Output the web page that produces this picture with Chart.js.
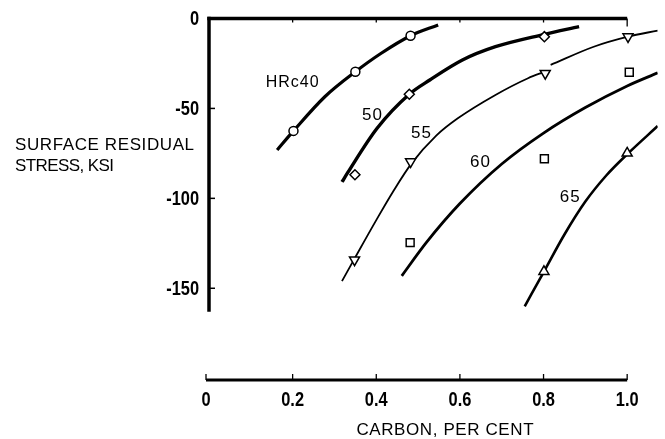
<!DOCTYPE html>
<html><head><meta charset="utf-8">
<script src="https://cdn.jsdelivr.net/npm/chart.js@4"></script>
<style>html,body{margin:0;padding:0;background:#fff;} canvas{display:block;}</style>
</head><body>
<canvas id="c" width="665" height="439"></canvas>
<script>
// ---- axis ticks / titles ----
const carbonTicks = [0, 0.2, 0.4, 0.6, 0.8, 1.0];
const carbonTickLabels = ['0', '0.2', '0.4', '0.6', '0.8', '1.0'];
const stressTicks = [0, -50, -100, -150];
const stressTickLabels = ['0', '-50', '-100', '-150'];
const xTitle = 'CARBON, PER CENT';
const yTitle = ['SURFACE RESIDUAL', 'STRESS, KSI'];
const curveNames = ['HRc40', '50', '55', '60', '65'];

// ---- faired curves (carbon %, stress ksi) ----
const hrc40CurveX = [0.163, 0.202, 0.277, 0.350, 0.410, 0.482, 0.548];
const hrc40CurveY = [-73.1, -62.5, -43.5, -29.6, -19.6, -9.6, -3.6];
const hrc50CurveX = [0.318, 0.332, 0.402, 0.479, 0.528, 0.606, 0.685, 0.802, 0.885];
const hrc50CurveY = [-90.9, -85.6, -61.0, -42.1, -34.2, -23.1, -15.7, -8.8, -4.5];
const hrc55CurveAX = [0.318, 0.348, 0.400, 0.440, 0.484, 0.544, 0.595, 0.685, 0.763, 0.804];
const hrc55CurveAY = [-146.0, -133.5, -112.1, -96.3, -80.7, -65.0, -55.5, -42.5, -33.2, -29.5];
const hrc55CurveBX = [0.817, 0.920, 1.002, 1.073];
const hrc55CurveBY = [-25.8, -15.7, -10.1, -6.7];
const hrc60CurveX = [0.461, 0.520, 0.600, 0.700, 0.800, 0.900, 1.000, 1.073];
const hrc60CurveY = [-143.1, -124.5, -102.9, -80.9, -63.7, -49.5, -37.5, -30.2];
const hrc65CurveX = [0.755, 0.801, 0.850, 0.900, 0.950, 1.000, 1.073];
const hrc65CurveY = [-160.0, -140.7, -120.1, -101.8, -87.3, -75.5, -59.8];

// ---- measured points ----
const hrc40PointsX = [0.202, 0.350, 0.482];
const hrc40PointsY = [-62.5, -29.6, -9.6];
const hrc50PointsX = [0.349, 0.479, 0.802];
const hrc50PointsY = [-86.9, -42.1, -10.1];
const hrc55PointsX = [0.348, 0.482, 0.804, 1.002];
const hrc55PointsY = [-134.2, -79.6, -30.5, -10.1];
const hrc60PointsX = [0.481, 0.802, 1.005];
const hrc60PointsY = [-124.6, -78.0, -29.9];
const hrc65PointsX = [0.801, 1.000];
const hrc65PointsY = [-140.7, -74.9];

const zip = (xs, ys) => xs.map((x, i) => ({ x: x, y: ys[i] }));

function curve(xs, ys, w) {
  return {
    data: zip(xs, ys), showLine: true, pointRadius: 0, pointHoverRadius: 0,
    borderColor: '#000', borderWidth: w, cubicInterpolationMode: 'monotone',
    fill: false, order: 2
  };
}
function marks(xs, ys, style, r, rot) {
  return {
    data: zip(xs, ys), showLine: false, pointStyle: style, pointRadius: r,
    pointRotation: rot || 0, pointBackgroundColor: '#fff', pointBorderColor: '#000',
    pointBorderWidth: 1.5, order: 1
  };
}

const LINE_FONT = '"Liberation Sans", Arial, sans-serif';

function narrowText(ctx, text, x, y, align) {
  ctx.save();
  ctx.translate(x, y);
  ctx.scale(0.82, 1);
  ctx.textAlign = align;
  ctx.textBaseline = 'middle';
  ctx.fillText(text, 0, 0);
  ctx.restore();
}

const paperPlugin = {
  id: 'paper',
  beforeDatasetsDraw(chart) {
    const { ctx, scales: { x, y } } = chart;
    ctx.save();
    ctx.strokeStyle = '#000';
    const y0 = y.getPixelForValue(0);
    const xl = x.getPixelForValue(0);
    const xr = x.getPixelForValue(1.0);
    // top frame line at zero stress
    ctx.lineWidth = 3.5;
    ctx.beginPath(); ctx.moveTo(xl - 1.7, y0); ctx.lineTo(xr, y0); ctx.stroke();
    ctx.lineWidth = 1.3;
    carbonTicks.slice(1).forEach(v => {
      const px = x.getPixelForValue(v);
      ctx.beginPath(); ctx.moveTo(px, y0); ctx.lineTo(px, y0 + (v === 1.0 ? 8 : 4)); ctx.stroke();
    });
    // left stress axis
    const yEnd = y.getPixelForValue(-163);
    ctx.lineWidth = 3.5;
    ctx.beginPath(); ctx.moveTo(xl, y0 - 1.7); ctx.lineTo(xl, yEnd); ctx.stroke();
    ctx.lineWidth = 1.5;
    stressTicks.slice(1).forEach(v => {
      const py = y.getPixelForValue(v);
      ctx.beginPath(); ctx.moveTo(xl, py); ctx.lineTo(xl + 6, py); ctx.stroke();
    });
    // bottom carbon axis
    const yb = chart.chartArea.bottom;
    ctx.lineWidth = 3.2;
    ctx.beginPath(); ctx.moveTo(xl - 3, yb); ctx.lineTo(xr, yb); ctx.stroke();
    ctx.lineWidth = 1.3;
    carbonTicks.forEach(v => {
      const px = x.getPixelForValue(v) - (v === 0 ? 3 : 0);
      ctx.beginPath(); ctx.moveTo(px, yb); ctx.lineTo(px, yb - 6); ctx.stroke();
    });
    ctx.restore();
  },
  afterDraw(chart) {
    const { ctx, scales: { x, y } } = chart;
    ctx.save();
    ctx.fillStyle = '#000';
    // tick labels (condensed bold)
    ctx.font = 'bold 20px ' + LINE_FONT;
    const xl = x.getPixelForValue(0);
    stressTicks.forEach((v, i) => {
      narrowText(ctx, stressTickLabels[i], xl - 10, y.getPixelForValue(v) + 1, 'right');
    });
    const yb = chart.chartArea.bottom;
    carbonTicks.forEach((v, i) => {
      narrowText(ctx, carbonTickLabels[i], x.getPixelForValue(v) - (v === 0 ? 3 : 0), yb + 20, 'center');
    });
    // axis titles
    ctx.font = '17px ' + LINE_FONT;
    ctx.textBaseline = 'middle';
    ctx.textAlign = 'left';
    ctx.letterSpacing = '0.6px';
    ctx.fillText(yTitle[0], 15, 145);
    ctx.letterSpacing = '-0.6px';
    ctx.fillText(yTitle[1], 15, 166);
    ctx.letterSpacing = '0.6px';
    ctx.textAlign = 'center';
    ctx.fillText(xTitle, x.getPixelForValue(0.565), 430);
    // curve labels
    const labelAt = [[0.200, -35.8], [0.391, -53.6], [0.508, -63.6], [0.649, -79.7], [0.864, -99.7]];
    ctx.font = '16px ' + LINE_FONT;
    ctx.letterSpacing = '1px';
    curveNames.forEach((t, i) => {
      if (i > 0) ctx.font = '17px ' + LINE_FONT;
      ctx.fillText(t, x.getPixelForValue(labelAt[i][0]), y.getPixelForValue(labelAt[i][1]));
    });
    ctx.restore();
  }
};

new Chart(document.getElementById('c'), {
  type: 'scatter',
  data: {
    datasets: [
      marks(hrc40PointsX, hrc40PointsY, 'circle', 4.5),
      marks(hrc50PointsX, hrc50PointsY, 'rectRot', 5),
      marks(hrc55PointsX, hrc55PointsY, 'triangle', 5.8, 180),
      marks(hrc60PointsX, hrc60PointsY, 'rect', 5.6),
      marks(hrc65PointsX, hrc65PointsY, 'triangle', 5.8),
      curve(hrc40CurveX, hrc40CurveY, 3.2),
      curve(hrc50CurveX, hrc50CurveY, 3.4),
      curve(hrc55CurveAX, hrc55CurveAY, 1.8),
      curve(hrc55CurveBX, hrc55CurveBY, 1.8),
      curve(hrc60CurveX, hrc60CurveY, 2.8),
      curve(hrc65CurveX, hrc65CurveY, 2.6)
    ]
  },
  options: {
    responsive: false,
    animation: false,
    events: [],
    layout: { padding: { left: 209, top: 18.5, right: 0, bottom: 59 } },
    plugins: { legend: { display: false }, tooltip: { enabled: false } },
    scales: {
      x: { type: 'linear', min: 0, max: 1.073, display: false },
      y: { type: 'linear', min: -201, max: 0, display: false }
    }
  },
  plugins: [paperPlugin]
});
</script>
</body></html>
